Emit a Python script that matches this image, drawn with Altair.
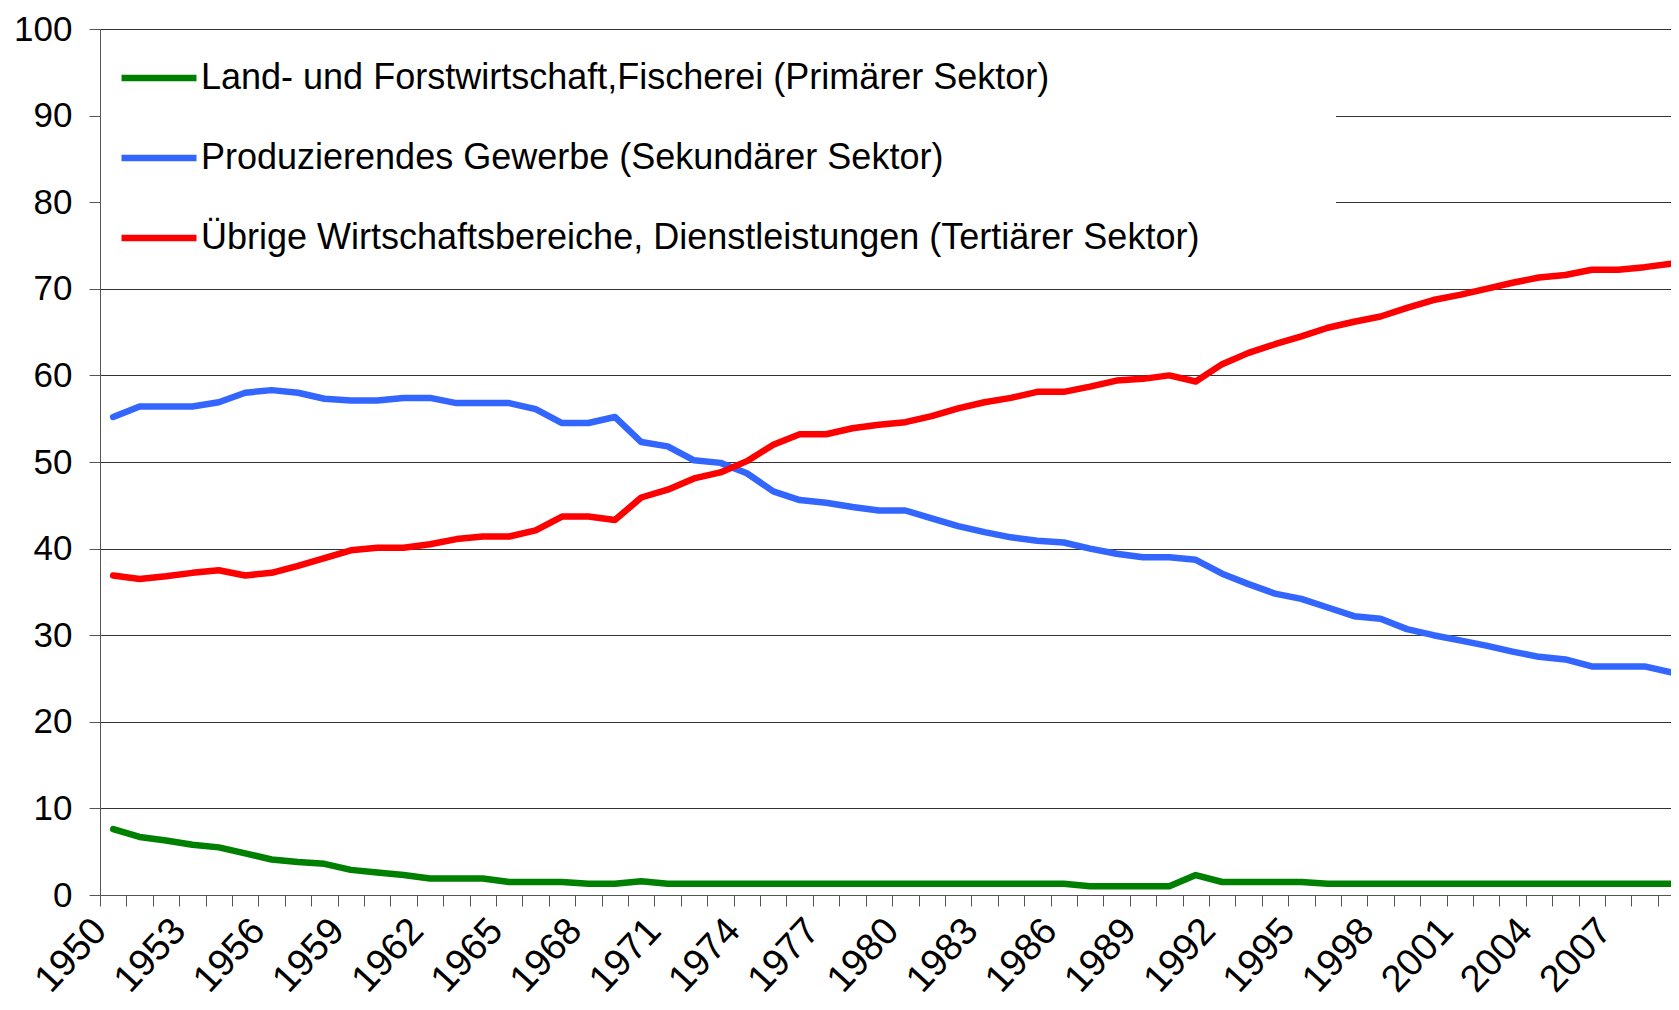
import altair as alt
import pandas as pd

# ---- data ----
years = list(range(1950, 2010))

primaer = [7.6, 6.7, 6.3, 5.8, 5.5, 4.8, 4.1, 3.8, 3.6, 2.9,
           2.6, 2.3, 1.9, 1.9, 1.9, 1.5, 1.5, 1.5, 1.3, 1.3,
           1.6, 1.3, 1.3, 1.3, 1.3, 1.3, 1.3, 1.3, 1.3, 1.3,
           1.3, 1.3, 1.3, 1.3, 1.3, 1.3, 1.3, 1.0, 1.0, 1.0,
           1.0, 2.3, 1.5, 1.5, 1.5, 1.5, 1.3, 1.3, 1.3, 1.3,
           1.3, 1.3, 1.3, 1.3, 1.3, 1.3, 1.3, 1.3, 1.3, 1.3]

sekundaer = [55.2, 56.4, 56.4, 56.4, 56.9, 58.0, 58.3, 58.0, 57.3, 57.1,
             57.1, 57.4, 57.4, 56.8, 56.8, 56.8, 56.1, 54.5, 54.5, 55.2,
             52.3, 51.8, 50.2, 49.9, 48.7, 46.6, 45.6, 45.3, 44.8, 44.4,
             44.4, 43.5, 42.6, 41.9, 41.3, 40.9, 40.7, 40.0, 39.4, 39.0,
             39.0, 38.7, 37.1, 35.9, 34.8, 34.2, 33.2, 32.2, 31.9, 30.7,
             30.0, 29.4, 28.8, 28.1, 27.5, 27.2, 26.4, 26.4, 26.4, 25.7]

tertiaer = [36.9, 36.5, 36.8, 37.2, 37.5, 36.9, 37.2, 38.0, 38.9, 39.8,
            40.1, 40.1, 40.5, 41.1, 41.4, 41.4, 42.1, 43.7, 43.7, 43.3,
            45.9, 46.8, 48.1, 48.8, 50.1, 52.0, 53.2, 53.2, 53.9, 54.3,
            54.6, 55.3, 56.2, 56.9, 57.4, 58.1, 58.1, 58.7, 59.4, 59.6,
            60.0, 59.3, 61.3, 62.6, 63.6, 64.5, 65.5, 66.2, 66.8, 67.8,
            68.7, 69.3, 70.0, 70.7, 71.3, 71.6, 72.2, 72.2, 72.5, 72.9]

series_names = [
    "Land- und Forstwirtschaft,Fischerei (Primärer Sektor)",
    "Produzierendes Gewerbe (Sekundärer Sektor)",
    "Übrige Wirtschaftsbereiche, Dienstleistungen (Tertiärer Sektor)",
]
series_colors = ["#008000", "#3366FF", "#FF0000"]

y_ticks = list(range(0, 101, 10))
label_every = 3
first_year = years[0]

# ---- table built from the arrays ----
rows = []
for name, vals in zip(series_names, [primaer, sekundaer, tertiaer]):
    for yr, v in zip(years, vals):
        rows.append({"Jahr": yr, "Anteil": v, "Sektor": name})
df = pd.DataFrame(rows)

# category boundaries carry the tick marks; labels every third year
boundaries = [yr - 0.5 for yr in years]
x_domain = [years[0] - 0.5, years[-1]]

FONT = "Liberation Sans"
NBSP = "\u00a0"
ZWSP = "\u200b"  # keeps the trailing blanks from being trimmed

chart = (
    alt.Chart(df)
    .mark_line(strokeWidth=6.5, strokeCap="round", strokeJoin="round", clip=True)
    .encode(
        x=alt.X(
            "Jahr:Q",
            scale=alt.Scale(domain=x_domain, nice=False, zero=False),
            axis=alt.Axis(
                values=boundaries,
                labelExpr=f"((datum.value + 0.5 - {first_year}) % {label_every} == 0) ? format(datum.value + 0.5, 'd') : ''",
                labelAngle=313,
                labelAlign="right",
                labelBaseline="alphabetic",
                labelPadding=26,
                labelOffset=8,
                labelFontSize=38,
                labelFont=FONT,
                labelColor="#000000",
                labelOverlap=False,
                labelFlush=False,
                tickSize=11,
                tickColor="#555555",
                domainColor="#555555",
                grid=False,
                title=None,
            ),
        ),
        y=alt.Y(
            "Anteil:Q",
            scale=alt.Scale(domain=[0, 100], nice=False),
            axis=alt.Axis(
                values=y_ticks,
                labelFontSize=35,
                labelFont=FONT,
                labelColor="#000000",
                labelPadding=17,
                tickSize=11,
                tickColor="#555555",
                domainColor="#555555",
                grid=True,
                gridColor="#333333",
                gridWidth=1,
                title=None,
            ),
        ),
        color=alt.Color(
            "Sektor:N",
            scale=alt.Scale(domain=series_names, range=series_colors),
            legend=alt.Legend(
                title=None,
                orient="none",
                legendX=1,
                legendY=2,
                padding=6,
                fillColor="#FFFFFF",
                symbolType="stroke",
                symbolSize=5625,
                symbolStrokeWidth=6.5,
                symbolOffset=11,
                labelOffset=1,
                rowPadding=21,
                labelFontSize=36,
                labelFont=FONT,
                labelColor="#000000",
                labelLimit=1600,
                labelExpr="datum.label + '" + NBSP * 13 + ZWSP + "'",
            ),
        ),
    )
    .properties(
        width=1571,
        height=866,
        padding={"left": 92, "top": 21, "right": 0, "bottom": 107},
        autosize=alt.AutoSizeParams(type="none"),
    )
    .configure_view(strokeWidth=0)
)

chart.save("out.html", embed_options={"renderer": "svg", "actions": False})
